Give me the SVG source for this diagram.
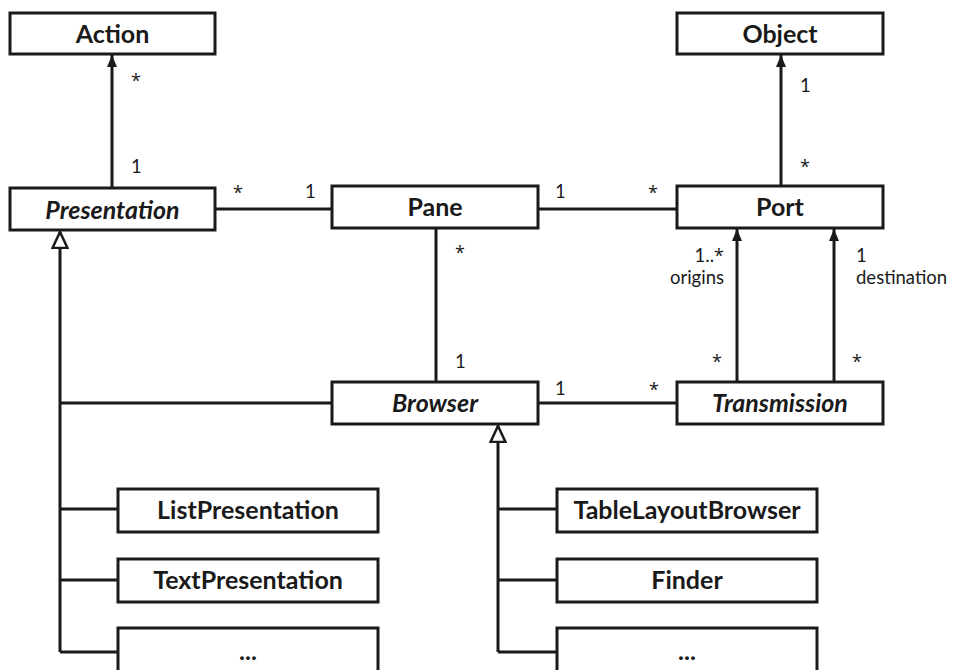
<svg xmlns="http://www.w3.org/2000/svg" width="958" height="670" viewBox="0 0 958 670">
<defs>
<marker id="arr" viewBox="0 0 12 10" refX="12" refY="5" markerWidth="12" markerHeight="10" markerUnits="userSpaceOnUse" orient="auto">
<path d="M0,0 L12,5 L0,10 Z" fill="#1a1a1a"/>
</marker>
<marker id="gen" viewBox="0 0 18 18" refX="17" refY="9" markerWidth="18" markerHeight="18" markerUnits="userSpaceOnUse" orient="auto">
<path d="M1,1.5 L17,9 L1,16.5 Z" fill="#fff" stroke="#1a1a1a" stroke-width="2.5"/>
</marker>
<style>
.box{fill:#fff;stroke:#1a1a1a;stroke-width:3}
.t{font-family:Lato,"Open Sans",sans-serif;font-weight:bold;font-size:25px;fill:#1a1a1a;text-anchor:middle}
.i{font-style:italic}
.c{fill:none;stroke:#1a1a1a;stroke-width:3}
.l{font-family:Lato,"Open Sans",sans-serif;font-size:18.5px;fill:#1a1a1a}
.s{font-family:"Open Sans",sans-serif;font-size:18px;fill:#1a1a1a}
</style>
</defs>
<g id="connectors">
<line class="c" x1="112" y1="188" x2="112" y2="55" marker-end="url(#arr)"/>
<line class="c" x1="215" y1="209" x2="332" y2="209"/>
<line class="c" x1="538" y1="209" x2="677" y2="209"/>
<line class="c" x1="436" y1="228" x2="436" y2="382"/>
<line class="c" x1="538" y1="403" x2="677" y2="403"/>
<line class="c" x1="781" y1="186" x2="781" y2="55" marker-end="url(#arr)"/>
<line class="c" x1="737" y1="382" x2="737" y2="229" marker-end="url(#arr)"/>
<line class="c" x1="834" y1="382" x2="834" y2="229" marker-end="url(#arr)"/>
<path class="c" d="M60,652 L60,232" marker-end="url(#gen)"/>
<path class="c" d="M60,403 H332 M60,509 H118 M60,580 H118 M60,652 H118"/>
<path class="c" d="M498,652 L498,426" marker-end="url(#gen)"/>
<path class="c" d="M498,509 H557 M498,580 H557 M498,652 H557"/>
</g>
<g id="labels">
<text class="s" x="131" y="87">*</text>
<text class="l" x="131" y="173">1</text>
<text class="s" x="233" y="199">*</text>
<text class="l" x="305" y="198">1</text>
<text class="l" x="555" y="198">1</text>
<text class="s" x="648" y="199">*</text>
<text class="s" x="455" y="259">*</text>
<text class="l" x="455" y="368">1</text>
<text class="l" x="555" y="395">1</text>
<text class="s" x="649" y="396">*</text>
<text class="l" x="800" y="92">1</text>
<text class="s" x="800" y="173">*</text>
<text class="l" x="724" y="262" text-anchor="end">1..<tspan font-family="Open Sans" font-size="18px">*</tspan></text>
<text class="l" x="724" y="284" text-anchor="end">origins</text>
<text class="l" x="856" y="262">1</text>
<text class="l" x="856" y="284">destination</text>
<text class="s" x="712" y="368">*</text>
<text class="s" x="852" y="368">*</text>
</g>
<g id="Action"><rect class="box" x="10" y="13" width="205" height="41"/><text class="t" x="112.5" y="43">Action</text></g>
<g id="Object"><rect class="box" x="677" y="13" width="206" height="41"/><text class="t" x="780" y="43">Object</text></g>
<g id="Presentation"><rect class="box" x="10" y="188" width="205" height="42"/><text class="t i" x="112.5" y="219">Presentation</text></g>
<g id="Pane"><rect class="box" x="332" y="186" width="206" height="42"/><text class="t" x="435" y="216">Pane</text></g>
<g id="Port"><rect class="box" x="677" y="186" width="206" height="42"/><text class="t" x="780" y="216">Port</text></g>
<g id="Browser"><rect class="box" x="332" y="382" width="206" height="42"/><text class="t i" x="435" y="412">Browser</text></g>
<g id="Transmission"><rect class="box" x="677" y="382" width="206" height="42"/><text class="t i" x="780" y="412">Transmission</text></g>
<g id="ListPresentation"><rect class="box" x="118" y="489" width="260" height="43"/><text class="t" x="248" y="519">ListPresentation</text></g>
<g id="TextPresentation"><rect class="box" x="118" y="559" width="260" height="43"/><text class="t" x="248" y="589">TextPresentation</text></g>
<g id="MorePresentation"><rect class="box" x="118" y="628" width="260" height="50"/><text class="t" x="248" y="660">...</text></g>
<g id="TableLayoutBrowser"><rect class="box" x="557" y="489" width="260" height="43"/><text class="t" x="687" y="519">TableLayoutBrowser</text></g>
<g id="Finder"><rect class="box" x="557" y="559" width="260" height="43"/><text class="t" x="687" y="589">Finder</text></g>
<g id="MoreBrowser"><rect class="box" x="557" y="628" width="260" height="50"/><text class="t" x="687" y="660">...</text></g>
</svg>
